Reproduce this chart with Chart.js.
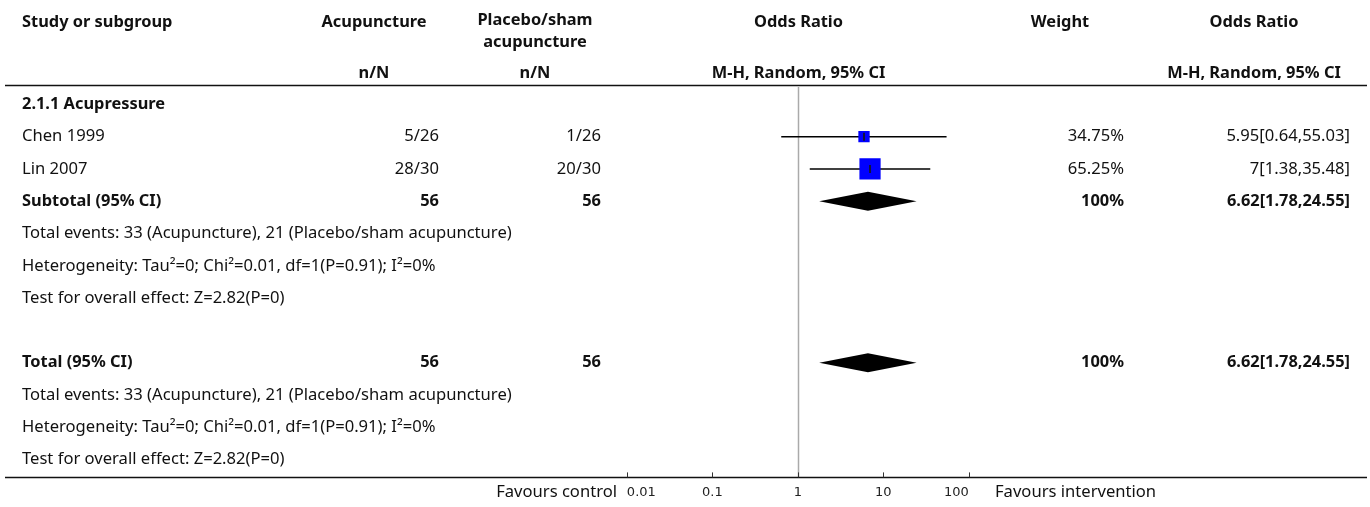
<!DOCTYPE html>
<html>
<head>
<meta charset="utf-8">
<title>Acupuncture vs placebo/sham acupuncture – odds ratio</title>
<script src="https://cdn.jsdelivr.net/npm/chart.js@4.4.1/dist/chart.umd.min.js"></script>
<style>
  html, body { margin: 0; padding: 0; background: #fff; }
  #forest { display: block; }
</style>
</head>
<body>
<canvas id="forest" width="1370" height="507"></canvas>
<script>
// study level data
const studies = ["Chen 1999", "Lin 2007"];
const acuEvents = [5, 28];
const acuTotal = [26, 30];
const shamEvents = [1, 20];
const shamTotal = [26, 30];
const weights = [34.75, 65.25];
const oddsRatio = [5.95, 7];
const ciLow = [0.64, 1.38];
const ciHigh = [55.03, 35.48];

// pooled estimate (random effects)
const pooled = [6.62, 1.78, 24.55];

const tickValues = [0.01, 0.1, 1, 10, 100];
const tickLabels = ["0.01", "0.1", "1", "10", "100"];

const heterogeneity = "Heterogeneity: Tau²=0; Chi²=0.01, df=1(P=0.91); I²=0%";
const overallEffect = "Test for overall effect: Z=2.82(P=0)";

// row index of each line in the table
const subgroupRow = 0;
const studyRows = [1, 2];
const subtotalRow = 3;
const totalRow = 8;

const sum = (arr) => arr.reduce((a, b) => a + b, 0);
const totalEvents = `Total events: ${sum(acuEvents)} (Acupuncture), ${sum(shamEvents)} (Placebo/sham acupuncture)`;

const FONT = "'Noto Sans', sans-serif";

function text(ctx, str, x, y, align, bold) {
  ctx.font = bold ? `bold 16.4px ${FONT}` : `16.6px ${FONT}`;
  ctx.textAlign = align;
  ctx.textBaseline = "middle";
  ctx.fillStyle = "#111";
  ctx.fillText(str, x, y);
}

const forestTable = {
  id: "forestTable",
  beforeDatasetsDraw(chart) {
    // line of no effect
    const { ctx, chartArea, scales } = chart;
    const px = Math.round(scales.x.getPixelForValue(1)) + 0.5;
    ctx.save();
    ctx.strokeStyle = "#aaaaaa";
    ctx.lineWidth = 1.5;
    ctx.beginPath();
    ctx.moveTo(px, chartArea.top + 2);
    ctx.lineTo(px, chartArea.bottom);
    ctx.stroke();
    ctx.restore();
  },
  afterDatasetsDraw(chart) {
    // pooled diamonds
    const { ctx, scales } = chart;
    const xl = scales.x.getPixelForValue(pooled[1]);
    const xm = scales.x.getPixelForValue(pooled[0]);
    const xr = scales.x.getPixelForValue(pooled[2]);
    ctx.save();
    ctx.fillStyle = "#000";
    [subtotalRow, totalRow].forEach((row) => {
      const y = scales.y.getPixelForValue(row);
      ctx.beginPath();
      ctx.moveTo(xl, y);
      ctx.lineTo(xm, y - 9.5);
      ctx.lineTo(xr, y);
      ctx.lineTo(xm, y + 9.5);
      ctx.closePath();
      ctx.fill();
    });
    ctx.restore();
  },
  afterDraw(chart) {
    const { ctx, chartArea, scales } = chart;
    const y = (row) => scales.y.getPixelForValue(row);
    const plotMid = (chartArea.left + chartArea.right) / 2;

    ctx.save();
    // rules
    ctx.strokeStyle = "#111";
    ctx.lineWidth = 1.5;
    ctx.beginPath();
    ctx.moveTo(5, 85.5);
    ctx.lineTo(1367, 85.5);
    ctx.moveTo(5, chartArea.bottom);
    ctx.lineTo(1367, chartArea.bottom);
    ctx.stroke();

    // axis ticks pointing up
    ctx.lineWidth = 1;
    ctx.strokeStyle = "#333";
    ctx.beginPath();
    tickValues.forEach((v) => {
      const px = Math.round(scales.x.getPixelForValue(v)) + 0.5;
      ctx.moveTo(px, chartArea.bottom - 5);
      ctx.lineTo(px, chartArea.bottom);
    });
    ctx.stroke();

    // header
    text(ctx, "Study or subgroup", 22, 22, "left", true);
    text(ctx, "Acupuncture", 374, 22, "center", true);
    text(ctx, "Placebo/sham", 535, 20, "center", true);
    text(ctx, "acupuncture", 535, 42, "center", true);
    text(ctx, "Odds Ratio", plotMid, 22, "center", true);
    text(ctx, "Weight", 1060, 22, "center", true);
    text(ctx, "Odds Ratio", 1254, 22, "center", true);
    text(ctx, "n/N", 374, 73, "center", true);
    text(ctx, "n/N", 535, 73, "center", true);
    text(ctx, "M-H, Random, 95% CI", plotMid, 73, "center", true);
    text(ctx, "M-H, Random, 95% CI", 1254, 73, "center", true);

    text(ctx, "2.1.1 Acupressure", 22, y(subgroupRow), "left", true);

    studies.forEach((name, i) => {
      const yy = y(studyRows[i]);
      text(ctx, name, 22, yy, "left", false);
      text(ctx, `${acuEvents[i]}/${acuTotal[i]}`, 439, yy, "right", false);
      text(ctx, `${shamEvents[i]}/${shamTotal[i]}`, 601, yy, "right", false);
      text(ctx, `${weights[i]}%`, 1124, yy, "right", false);
      text(ctx, `${oddsRatio[i]}[${ciLow[i]},${ciHigh[i]}]`, 1350, yy, "right", false);
    });

    [[subtotalRow, "Subtotal (95% CI)"], [totalRow, "Total (95% CI)"]].forEach(([row, label]) => {
      const yy = y(row);
      text(ctx, label, 22, yy, "left", true);
      text(ctx, String(sum(acuTotal)), 439, yy, "right", true);
      text(ctx, String(sum(shamTotal)), 601, yy, "right", true);
      text(ctx, `${Math.round(sum(weights))}%`, 1124, yy, "right", true);
      text(ctx, `${pooled[0]}[${pooled[1]},${pooled[2]}]`, 1350, yy, "right", true);
      text(ctx, totalEvents, 22, y(row + 1), "left", false);
      text(ctx, heterogeneity, 22, y(row + 2), "left", false);
      text(ctx, overallEffect, 22, y(row + 3), "left", false);
    });

    // favours labels beside the axis
    text(ctx, "Favours control", 617, 492, "right", false);
    text(ctx, "Favours intervention", 995, 492, "left", false);
    ctx.restore();
  }
};

const rowPoints = (values) => values.map((v, i) => ({ x: v, y: studyRows[i] }));

const whiskers = studies.map((name, i) => ({
  label: name + " CI",
  data: [{ x: ciLow[i], y: studyRows[i] }, { x: ciHigh[i], y: studyRows[i] }],
  showLine: true,
  borderColor: "#000",
  borderWidth: 1.5,
  pointRadius: 0,
  order: 3
}));

const ctx = document.getElementById("forest").getContext("2d");
new Chart(ctx, {
  type: "scatter",
  data: {
    datasets: [
      {
        label: "Point estimate",
        data: rowPoints(oddsRatio),
        pointStyle: "line",
        rotation: 90,
        pointRadius: 4,
        borderColor: "#14143c",
        borderWidth: 2,
        order: 1
      },
      {
        label: "Weight",
        data: rowPoints(oddsRatio),
        pointStyle: "rect",
        pointRadius: weights.map((w) => (w * 0.325) / Math.SQRT2),
        backgroundColor: "#0000ff",
        borderWidth: 0,
        order: 2
      },
      ...whiskers
    ]
  },
  options: {
    responsive: false,
    devicePixelRatio: 1,
    animation: false,
    events: [],
    layout: { padding: { top: 85, left: 612, right: 385, bottom: 0 } },
    plugins: { legend: { display: false }, tooltip: { enabled: false } },
    scales: {
      x: {
        type: "logarithmic",
        min: 0.0067,
        max: 155,
        grid: { display: false, drawTicks: false },
        border: { display: false },
        afterBuildTicks: (axis) => {
          axis.ticks = tickValues.map((v) => ({ value: v }));
        },
        ticks: {
          autoSkip: false,
          maxRotation: 0,
          align: "inner",
          padding: 7,
          color: "#222",
          font: { family: "'DejaVu Sans', sans-serif", size: 13 },
          callback: (value, index) => tickLabels[index]
        }
      },
      y: {
        type: "linear",
        reverse: true,
        min: -0.6,
        max: 11.55,
        display: false
      }
    }
  },
  plugins: [forestTable]
});
</script>
</body>
</html>
